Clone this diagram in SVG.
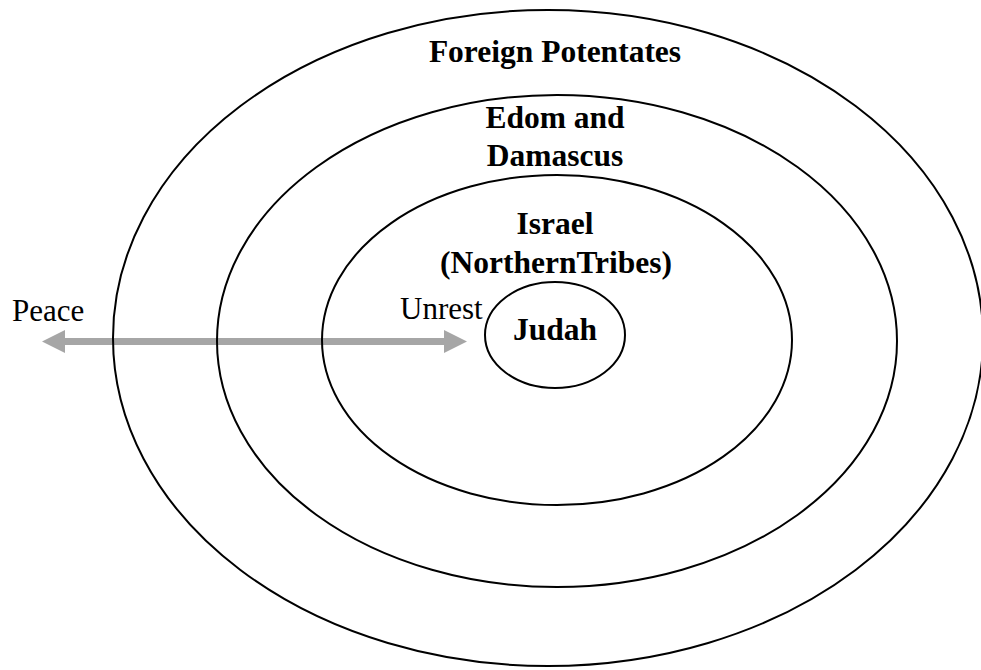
<svg xmlns="http://www.w3.org/2000/svg" width="981" height="670" viewBox="0 0 981 670">
<style>
.ring{fill:none;stroke:#000;stroke-width:2}
.lbl{font-family:"Liberation Serif","Times New Roman",serif;font-weight:bold;font-size:31.5px;fill:#000;text-anchor:middle}
.end{font-family:"Liberation Serif","Times New Roman",serif;font-size:31px;fill:#000}
.arrow{fill:#a6a6a6;stroke:none}
</style>
<rect width="981" height="670" fill="#fff"/>
<g id="connectors">
<polygon class="arrow" points="42,341.5 65,330 65,338 444,338 444,330 467,341.5 444,353 444,345 65,345 65,353"/>
</g>
<g id="foreign">
<ellipse class="ring" cx="548" cy="338" rx="435" ry="328"/>
<text class="lbl" x="555" y="62">Foreign Potentates</text>
</g>
<g id="edom">
<ellipse class="ring" cx="557" cy="341" rx="340" ry="246"/>
<text class="lbl" x="555" y="128">Edom and</text>
<text class="lbl" x="555" y="166">Damascus</text>
</g>
<g id="israel">
<ellipse class="ring" cx="557" cy="340" rx="235" ry="165"/>
<text class="lbl" x="555" y="234">Israel</text>
<text class="lbl" x="556" y="273">(NorthernTribes)</text>
</g>
<g id="judah">
<ellipse class="ring" cx="555" cy="335" rx="70" ry="53"/>
<text class="lbl" x="555" y="340">Judah</text>
</g>
<g id="peace">
<text class="end" x="12" y="321">Peace</text>
</g>
<g id="unrest">
<text class="end" x="400" y="319">Unrest</text>
</g>
</svg>
